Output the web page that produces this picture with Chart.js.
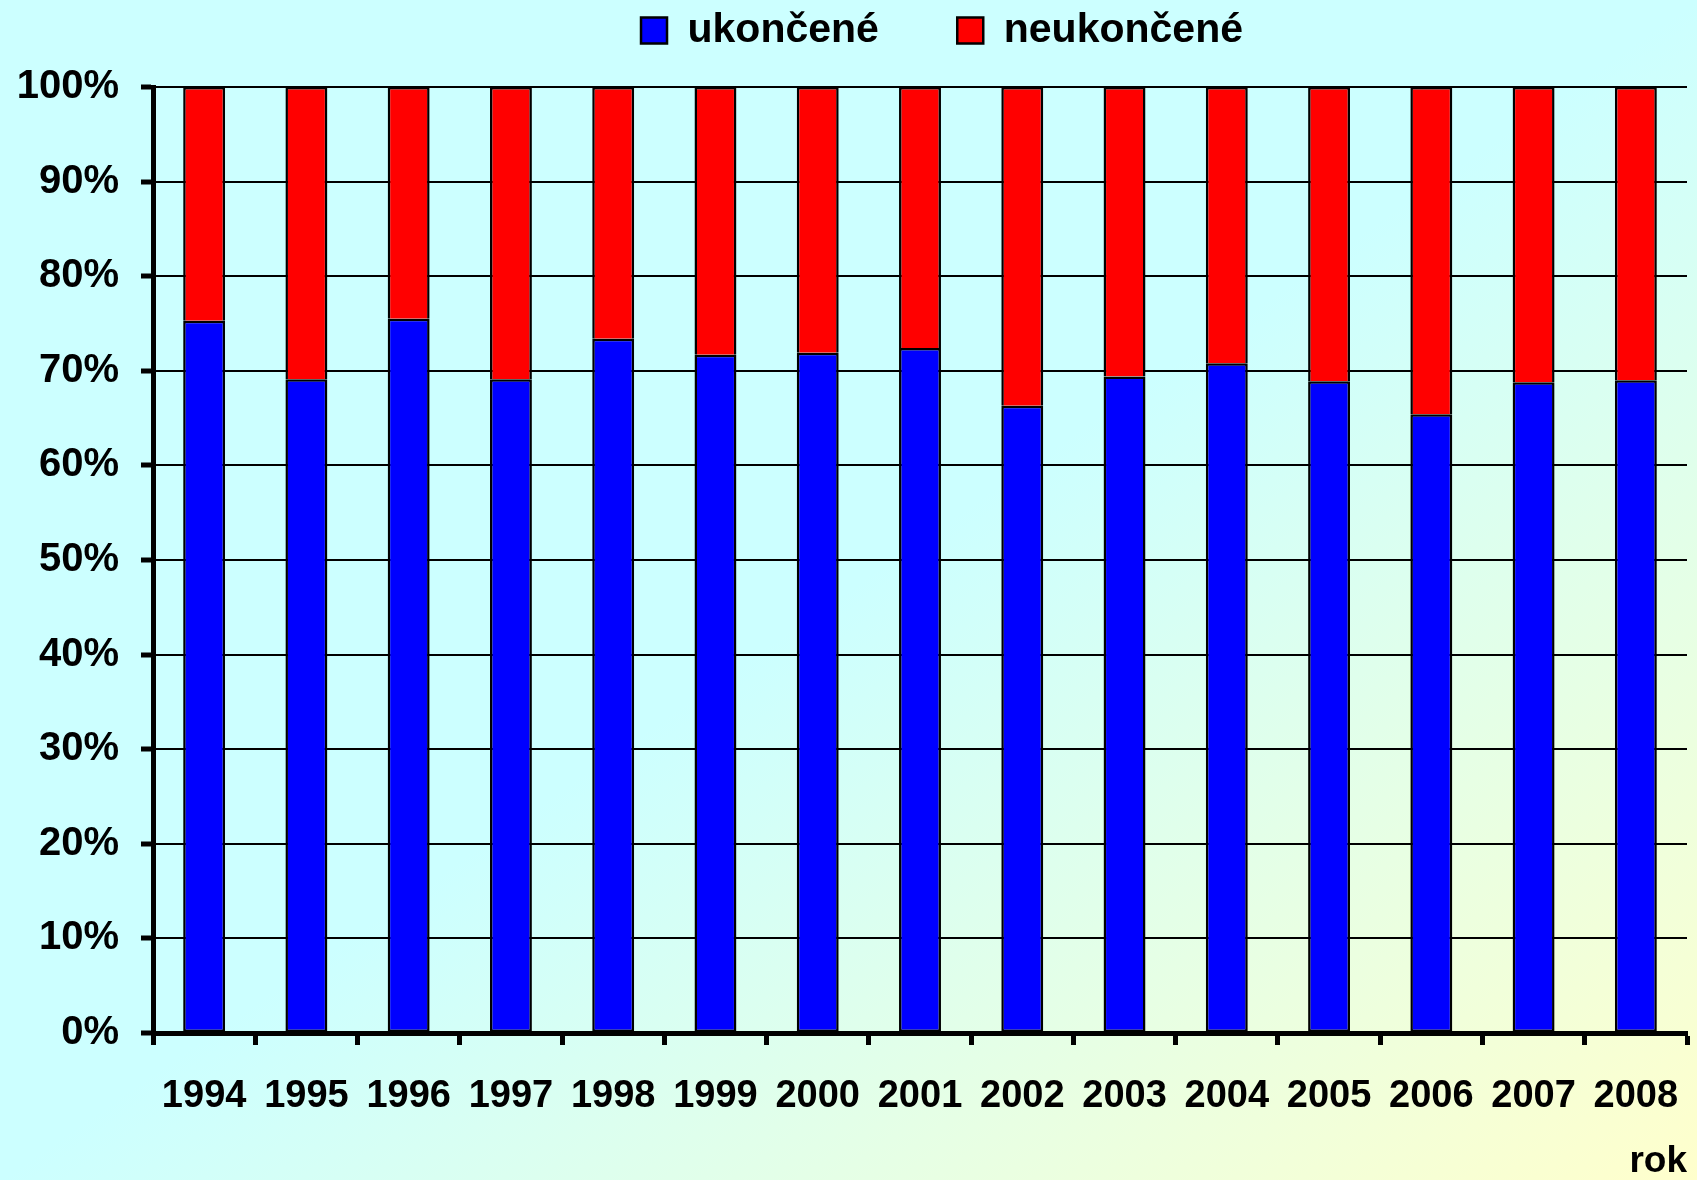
<!DOCTYPE html>
<html>
<head>
<meta charset="utf-8">
<script src="https://cdn.jsdelivr.net/npm/chart.js@4/dist/chart.umd.min.js"></script>
<style>
  body { margin: 0; }
  #wrap {
    width: 1697px;
    height: 1180px;
    background: linear-gradient(to bottom right, #ccffff 50%, #ffffcc 100%);
  }
</style>
</head>
<body>
<div id="wrap"><canvas id="chart"></canvas></div>
<script>
const years = ['1994', '1995', '1996', '1997', '1998', '1999', '2000', '2001',
               '2002', '2003', '2004', '2005', '2006', '2007', '2008'];
const finished = [75.3, 69.1, 75.5, 69.1, 73.4, 71.7, 71.9, 72.4, 66.3, 69.4, 70.8, 68.9, 65.4, 68.8, 69.0];
const unfinished = [24.7, 30.9, 24.5, 30.9, 26.6, 28.3, 28.1, 27.6, 33.7, 30.6, 29.2, 31.1, 34.6, 31.2, 31.0];
const yTicks = [0, 10, 20, 30, 40, 50, 60, 70, 80, 90, 100];

const font = 'Liberation Sans, Arial, sans-serif';

// move the legend up to the top edge and a bit to the right
const legendPlace = {
    id: 'legendPlace',
    beforeDraw(chart) {
        const lg = chart.legend;
        lg.top = 0;
        lg.bottom = lg.height;
    },
    afterLayout(chart) {
        chart.legend.left = chart.chartArea.left + 44;
    }
};

const ctx = document.getElementById('chart').getContext('2d');
new Chart(ctx, {
    type: 'bar',
    data: {
        labels: years,
        datasets: [{
            label: 'ukončené',
            data: finished,
            backgroundColor: '#0000ff',
            borderColor: '#000',
            borderWidth: 2.5,
            borderSkipped: false
        }, {
            label: 'neukončené',
            data: unfinished,
            backgroundColor: '#ff0000',
            borderColor: '#000',
            borderWidth: 2.5,
            borderSkipped: 'start'
        }]
    },
    options: {
        responsive: true,
        maintainAspectRatio: false,
        animation: false,
        layout: { padding: { left: 0, right: 10, top: 0, bottom: 0 } },
        datasets: {
            bar: { categoryPercentage: 1, barPercentage: 0.41 }
        },
        plugins: {
            tooltip: { enabled: false },
            legend: {
                position: 'top',
                fullSize: false,
                labels: {
                    color: '#000',
                    font: { family: font, size: 41, weight: 'bold' },
                    boxWidth: 26,
                    boxHeight: 26,
                    padding: 10,
                    generateLabels: function(chart) {
                        const items = Chart.defaults.plugins.legend.labels.generateLabels(chart);
                        items[0].text = items[0].text + '      ';
                        return items;
                    }
                }
            }
        },
        scales: {
            x: {
                stacked: true,
                offset: true,
                grid: {
                    offset: true,
                    drawOnChartArea: false,
                    drawTicks: true,
                    tickLength: 12,
                    tickWidth: 5,
                    tickColor: '#000'
                },
                border: { color: '#000', width: 5 },
                ticks: {
                    color: '#000',
                    padding: 29,
                    maxRotation: 0,
                    font: { family: font, size: 38, weight: 'bold' }
                },
                title: {
                    display: true,
                    text: 'rok',
                    align: 'end',
                    color: '#000',
                    padding: { top: 0, bottom: 0 },
                    font: { family: font, size: 37, weight: 'bold', lineHeight: 1 }
                },
                afterFit: function(scale) {
                    scale.height = 147;
                    scale.paddingLeft = 0;
                    scale.paddingRight = 0;
                }
            },
            y: {
                stacked: true,
                min: 0,
                max: 100,
                afterBuildTicks: function(scale) {
                    scale.ticks = yTicks.map(v => ({ value: v }));
                },
                grid: {
                    color: '#000',
                    lineWidth: 2,
                    drawTicks: true,
                    tickLength: 12,
                    tickWidth: 5,
                    tickColor: '#000'
                },
                border: { color: '#000', width: 5 },
                ticks: {
                    color: '#000',
                    padding: 22,
                    font: { family: font, size: 40, weight: 'bold' },
                    callback: function(value) {
                        return value + '%';
                    }
                },
                afterFit: function(scale) {
                    scale.width = 153;
                    scale.paddingTop = 87;
                }
            }
        }
    },
    plugins: [legendPlace]
});
</script>
</body>
</html>
